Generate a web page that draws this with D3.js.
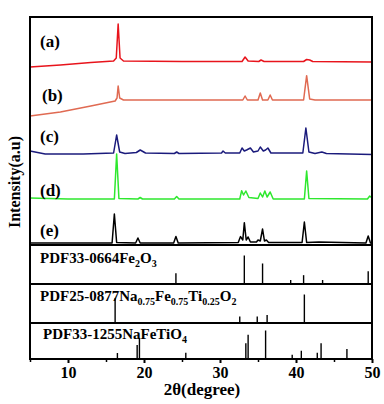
<!DOCTYPE html>
<html lang="en">
<head>
<meta charset="utf-8">
<title>XRD patterns</title>
<script src="https://cdn.jsdelivr.net/npm/d3@7"></script>
<style>
  body { margin: 0; background: #fff; }
  text { font-family: "Times New Roman", "Liberation Serif", serif; font-weight: bold; fill: #000; }
</style>
</head>
<body>
<script>
// measured XRD curves: [2theta, intensity (stacked, a.u.)]
var curveA = [[5,178],[9,180],[13,182.5],[16,184],[16.35,187],[16.6,221],[16.85,187],[17.3,184],[25,183.5],[32.9,183.5],[33.3,188],[33.7,184],[35.1,183.5],[35.4,185],[35.8,183.5],[41,183.5],[41.4,185.5],[41.8,185],[42.2,183.5],[50,183]];
var curveB = [[5,129],[9,133],[13,139],[16.2,144],[16.45,147],[16.6,159],[16.8,147],[17.3,145],[25,145],[33,145],[33.3,149],[33.6,145],[35,145],[35.3,152],[35.6,145],[36.3,145],[36.6,150],[36.9,145],[41,145],[41.4,169.3],[41.8,146],[42.5,145],[50,145]];
var curveC = [[5,94],[7,91],[12,91],[16,92],[16.4,110],[16.8,93],[17.5,91.5],[19,92.5],[19.5,95],[20.2,92],[24,91.5],[24.3,93],[24.6,91.5],[30.2,92],[30.4,94],[30.7,92],[32.6,92],[32.9,97],[33.2,94],[33.5,95],[34,97],[34.4,93],[35,94],[35.3,98],[35.7,94],[36,95],[36.3,97],[36.7,92],[40.9,92],[41.3,117],[41.7,93],[42.5,91.5],[43.4,93],[44,91.5],[50,90.5]];
var curveD = [[5,47],[10,46],[16.1,46],[16.4,91],[16.7,46.5],[19.2,46],[19.5,47.5],[19.8,46],[24,46],[24.3,48.5],[24.6,46],[32.6,46],[32.85,54.3],[33.1,50],[33.4,54],[33.8,47.5],[35,46.5],[35.3,52],[35.6,48],[35.9,54],[36.2,48],[36.6,53],[37,46],[41.1,46],[41.4,74],[41.7,46.5],[49.4,46],[49.7,49],[50,47]];
var curveE = [[5,2],[15.8,2],[16.1,31],[16.4,2.5],[18.9,2],[19.2,7],[19.5,2],[23.9,2],[24.2,8.5],[24.5,2],[32.4,2.5],[32.7,8.4],[33,5],[33.2,22.3],[33.45,5],[33.7,8],[34,3],[34.8,3],[35,5],[35.3,4],[35.6,16],[35.85,4],[36.1,5],[36.4,2.5],[40.8,2.5],[41.1,23],[41.4,2.5],[43,3],[49.2,2],[49.5,9],[49.8,2],[50,2]];

var curves = [curveA, curveB, curveC, curveD, curveE];
var curveNames = ["(a)", "(b)", "(c)", "(d)", "(e)"];
var curveColors = ["#e8141c", "#e06a52", "#1b1b7c", "#2ee82e", "#000000"];
var labelLevels = [198, 144, 103, 49, 9];   // intensity level of each tag baseline

// reference patterns: 2theta and relative intensity (%)
var fe2o3Pos = [24.2, 33.2, 35.6, 39.3, 41.0, 43.5, 49.5];
var fe2o3Int = [38, 100, 72, 14, 31, 14, 45];
var nftoPos = [16.2, 32.6, 34.9, 36.2, 41.1];
var nftoInt = [87, 23, 23, 28, 100];
var nafetio4Pos = [16.5, 19.1, 19.4, 25.5, 33.4, 33.7, 36.0, 39.5, 40.7, 42.8, 43.3, 46.7];
var nafetio4Int = [21, 49, 74, 22, 55, 85, 100, 15, 29, 22, 55, 35];

var majorTicks = [10, 20, 30, 40, 50];
var minorTicks = [5, 15, 25, 35, 45];

var w = 384, h = 404;
var plotLeft = 30, plotRight = 372, plotTop = 17, plotBottom = 359;
var mainBottom = 245;
var panelEdges = [245, 284, 323, 359];

var svg = d3.select("body").append("svg")
    .attr("width", w)
    .attr("height", h);

var x = d3.scaleLinear().domain([5, 50]).range([plotLeft, plotRight]);
var y = d3.scaleLinear().domain([0, 228]).range([mainBottom, plotTop]);
var stickH = d3.scaleLinear().domain([0, 100]).range([0, 28.5]);

var line = d3.line()
    .x(function(d) { return x(d[0]); })
    .y(function(d) { return y(d[1]); });

svg.append("g").selectAll("path")
    .data(curves)
    .enter().append("path")
    .attr("d", line)
    .attr("fill", "none")
    .attr("stroke", function(d, i) { return curveColors[i]; })
    .attr("stroke-width", 1.5)
    .attr("stroke-linejoin", "round");

svg.append("g").selectAll("text")
    .data(curveNames)
    .enter().append("text")
    .attr("x", function(d, i) { return i == 1 ? 42 : 40; })
    .attr("y", function(d, i) { return y(labelLevels[i]); })
    .attr("font-size", 17)
    .text(function(d) { return d; });

// stick panels
var panels = [
  { pos: fe2o3Pos, inten: fe2o3Int, base: panelEdges[1] },
  { pos: nftoPos, inten: nftoInt, base: panelEdges[2] },
  { pos: nafetio4Pos, inten: nafetio4Int, base: panelEdges[3] }
];
panels.forEach(function(p) {
  svg.append("g").selectAll("line")
    .data(p.pos)
    .enter().append("line")
    .attr("x1", function(d) { return x(d); })
    .attr("x2", function(d) { return x(d); })
    .attr("y1", p.base)
    .attr("y2", function(d, i) { return p.base - stickH(p.inten[i]); })
    .attr("stroke", "#000")
    .attr("stroke-width", 1.4);
});

// panel titles with subscripts
function label(xPos, yPos, parts) {
  var t = svg.append("text").attr("x", xPos).attr("y", yPos).attr("font-size", 15);
  parts.forEach(function(p, i) {
    var s = t.append("tspan").text(p[0]);
    if (p[1]) s.attr("font-size", 10).attr("dy", 4);
    else if (i > 0) s.attr("dy", -4);
  });
}
label(40, 263, [["PDF33-0664Fe"], ["2", 1], ["O"], ["3", 1]]);
label(40, 301, [["PDF25-0877Na"], ["0.75", 1], ["Fe"], ["0.75", 1], ["Ti"], ["0.25", 1], ["O"], ["2", 1]]);
label(43, 339, [["PDF33-1255NaFeTiO"], ["4", 1]]);

// separators and frame
svg.append("g").selectAll("line")
    .data(panelEdges.slice(0, 3))
    .enter().append("line")
    .attr("x1", plotLeft).attr("x2", plotRight)
    .attr("y1", function(d) { return d; })
    .attr("y2", function(d) { return d; })
    .attr("stroke", "#000")
    .attr("stroke-width", 2);

svg.append("rect")
    .attr("x", plotLeft).attr("y", plotTop)
    .attr("width", plotRight - plotLeft).attr("height", plotBottom - plotTop)
    .attr("fill", "none")
    .attr("stroke", "#000")
    .attr("stroke-width", 2);

// x axis
var xAxis = svg.append("g")
    .attr("transform", "translate(0," + plotBottom + ")")
    .call(d3.axisBottom(x).tickValues(majorTicks).tickSize(4).tickPadding(4).tickFormat(d3.format("d")));
xAxis.select(".domain").remove();
xAxis.selectAll("line").attr("stroke-width", 2);
xAxis.selectAll("text").attr("font-size", 16).attr("font-family", null);

var xMinor = svg.append("g")
    .attr("transform", "translate(0," + plotBottom + ")")
    .call(d3.axisBottom(x).tickValues(minorTicks).tickSize(3).tickFormat(""));
xMinor.select(".domain").remove();
xMinor.selectAll("line").attr("stroke-width", 1.5);

svg.append("text")
    .attr("x", 202).attr("y", 395)
    .attr("text-anchor", "middle")
    .attr("font-size", 17)
    .text("2θ(degree)");

svg.append("text")
    .attr("transform", "translate(20,182) rotate(-90)")
    .attr("text-anchor", "middle")
    .attr("font-size", 16)
    .text("Intensity(a.u)");
</script>
</body>
</html>
